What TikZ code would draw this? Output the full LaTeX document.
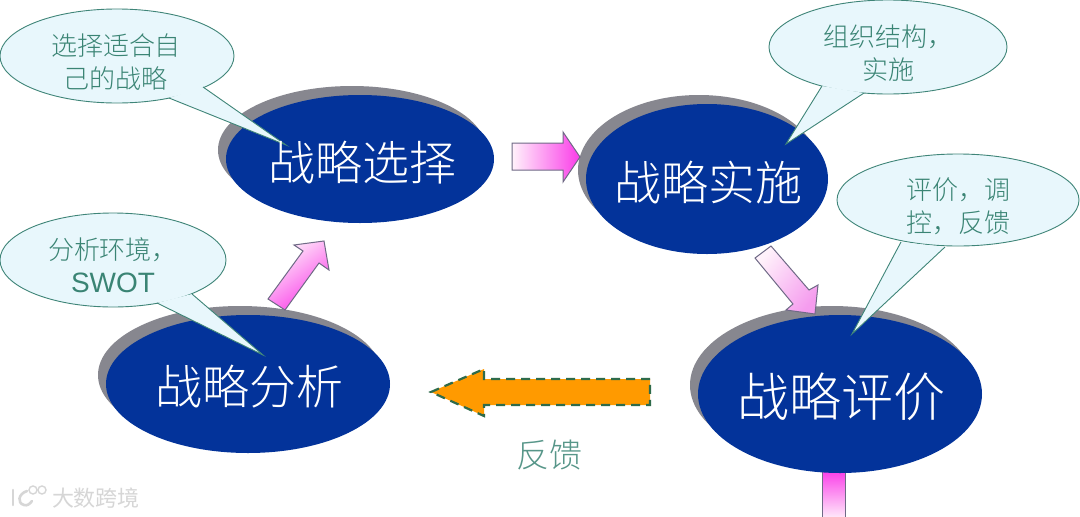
\documentclass[tikz,border=0pt]{standalone}
\usepackage{fontspec}
\setmainfont{Liberation Sans}
\newfontfamily\cjk{Noto Sans CJK SC Light}
\newfontfamily\cjkreg{Noto Sans CJK SC}
\usetikzlibrary{shapes.geometric}
\definecolor{navy}{HTML}{03339A}
\definecolor{shadowgray}{HTML}{87878F}
\definecolor{callfill}{HTML}{E8F7FC}
\definecolor{callline}{HTML}{3F8578}
\definecolor{calltext}{HTML}{3A8474}
\definecolor{magentaarrow}{HTML}{FA3CE8}
\definecolor{softmagenta}{HTML}{F59CEE}
\definecolor{palearrow}{HTML}{FFF2FB}
\definecolor{arrowline}{HTML}{6F6A86}
\definecolor{orangearrow}{HTML}{FF9A00}
\definecolor{dashgreen}{HTML}{2F6B4A}
\definecolor{markgray}{HTML}{D6D6D6}
\tikzset{
  x=1pt,y=-1pt,
  bubble/.style={ellipse,draw=callline,line width=.9pt,fill=callfill,inner sep=0pt},
  bubbletail/.style={fill=callfill,draw=none},
  tailedge/.style={draw=callline,line width=.9pt,line join=miter},
  bubbletext/.style={text=calltext,align=center,font=\cjk\fontsize{26}{33}\selectfont,inner sep=0pt},
  bigtext/.style={text=white,font=\cjk\fontsize{#1}{#1}\selectfont,inner sep=0pt},
  pinkarrow/.style={draw=arrowline,line width=1pt,line join=miter},
  logoline/.style={draw=markgray,line width=2.6pt,line cap=round,fill=none},
  logodot/.style={circle,draw=markgray,line width=1.4pt,fill=white,inner sep=0pt,minimum size=8pt},
}
\newcommand{\ovalnode}[4]{% name, centre, rx, ry
  \node[shape=ellipse,fill=navy,inner sep=0pt,minimum width=#3*2pt,minimum height=#4*2pt] (#1) at #2 {};}
\newcommand{\shadownode}[4]{%
  \node[shape=ellipse,fill=shadowgray,inner sep=0pt,minimum width=#3*2pt,minimum height=#4*2pt] (#1) at #2 {};}
\newcommand{\bubblenode}[4]{%
  \node[bubble,minimum width=#3*2pt,minimum height=#4*2pt] (#1) at #2 {};}
\newcommand{\tailpath}[3]{% a tip b
  \fill[bubbletail] #1 -- #2 -- #3 -- cycle;
  \draw[tailedge] #1 -- #2 -- #3;}
\begin{document}
\begin{tikzpicture}
\useasboundingbox (0,0) rectangle (1080,517);
\fill[white] (0,0) rectangle (1080,517);

% shadows
\shadownode{s1}{(352,150)}{134}{64}
\shadownode{s2}{(699,170)}{121}{75}
\shadownode{s3}{(240,375)}{142}{69}
\shadownode{s4}{(832,385)}{142}{79}

% arrow: implementation to evaluation (tip runs under the blue oval)
\shade[pinkarrow,left color=palearrow,right color=softmagenta,shading angle=52]
  (755,258) -- (771,246) -- (809,290) -- (818,285) -- (815,314) -- (786,310) -- (793,304) -- cycle;

% bottom arrow
\shade[pinkarrow,top color=magentaarrow,bottom color=palearrow]
  (822,470) -- (845,470) -- (845,520) -- (822,520) -- cycle;

% blue ovals
\ovalnode{o1}{(360,159)}{134}{64}
\ovalnode{o2}{(707,179)}{121}{75}
\ovalnode{o3}{(248,384)}{142}{69}
\ovalnode{o4}{(840,394)}{142}{79}

% right arrow
\shade[pinkarrow,left color=palearrow,right color=magentaarrow]
  (512,143) -- (563,143) -- (563,132) -- (580,157) -- (563,182) -- (563,170) -- (512,170) -- cycle;

% up arrow
\shade[pinkarrow,left color=palearrow,right color=magentaarrow,shading angle=36]
  (268,299) -- (303,251) -- (294,245) -- (324,241) -- (329,270) -- (319,263) -- (285,310) -- cycle;

% orange arrow
\draw[fill=orangearrow,draw=dashgreen,line width=2.2pt,dash pattern=on 9pt off 6pt]
  (650,379) -- (484,379) -- (484,369) -- (431,392) -- (484,416) -- (484,405) -- (650,405) -- cycle;

% speech bubbles
\bubblenode{b1}{(117,56)}{117}{47}
\tailpath{(169,98)}{(286,145)}{(203,87)}
\bubblenode{b2}{(113,260)}{113}{47}
\tailpath{(157,303)}{(263,355)}{(192,294)}
\bubblenode{b3}{(888,47)}{119}{47}
\tailpath{(822,86)}{(786,144)}{(864,93)}
\bubblenode{b4}{(958,200)}{121}{46}
\tailpath{(901,242)}{(852,334)}{(945,247)}

% text
\node[bigtext=47] (t1) at (362,163) {战略选择};
\node[bigtext=47] (t2) at (708,183) {战略实施};
\node[bigtext=47] (t3) at (249,387) {战略分析};
\node[bigtext=52] (t4) at (841,397) {战略评价};
\node[bubbletext] (c1) at (116,62) {选择适合自\\己的战略};
\node[bubbletext] (c2) at (113,265) {分析环境，\\{\rmfamily\fontsize{28}{33}\selectfont SWOT}};
\node[bubbletext] (c3) at (888,53) {组织结构，\\实施};
\node[bubbletext] (c4) at (958,206) {评价，调\\控，反馈};
\node[text=calltext!85,font=\cjk\fontsize{33}{33}\selectfont,inner sep=0pt] (fb) at (549,455) {反馈};

% watermark
\draw[logoline] (13,490) -- (13,505);
\draw[logoline] (27,491) .. controls (18,494) and (17,503) .. (24,505) .. controls (27,506) and (30,504) .. (32,501);
\node[logodot] (d1) at (33,490) {};
\node[logodot] (d2) at (42,490) {};
\node[text=markgray,font=\cjkreg\fontsize{22}{22}\selectfont,inner sep=0pt] (wm) at (96,498) {大数跨境};
\end{tikzpicture}
\end{document}
